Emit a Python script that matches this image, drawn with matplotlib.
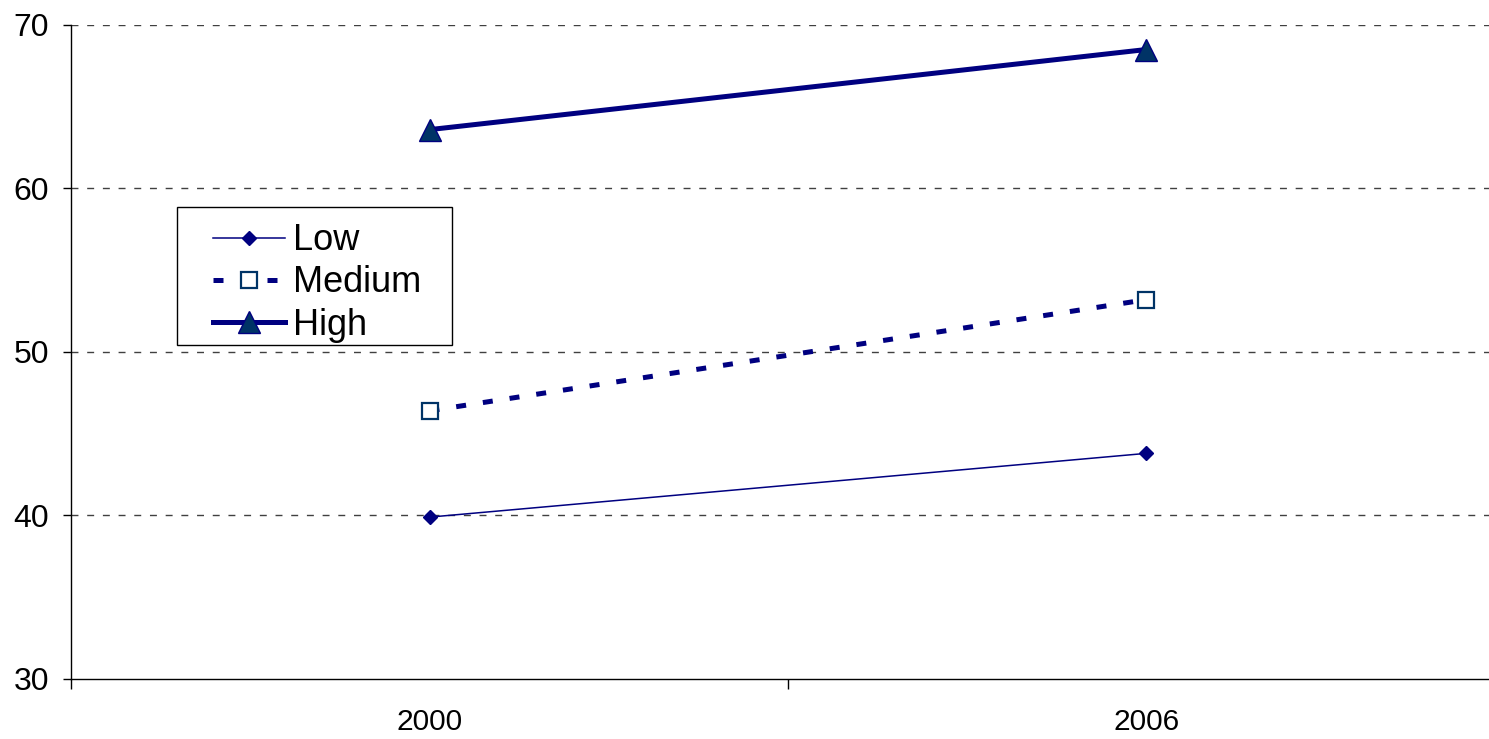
import numpy as np
import matplotlib.pyplot as plt
from matplotlib.patches import Rectangle

plt.rcParams['font.family'] = ['Liberation Sans', 'DejaVu Sans']

years = ["2000", "2006"]
low = [39.9, 43.8]
medium = [46.4, 53.2]
high = [63.6, 68.5]

navy = "#000080"
fill = "#003366"

fig = plt.figure(figsize=(14.89, 7.39), dpi=100)
ax = fig.add_axes([0.0477, 0.0812, 0.963, 0.885])

x = np.arange(len(years))
ax.plot(x, low, color=navy, lw=1.1, marker="D", ms=7,
        mfc=navy, mec=navy, label="Low")
ax.plot(x, medium, color=navy, lw=3.6, ls=(0, (2.0, 3.4)), marker="s", ms=12,
        mfc="white", mec=fill, mew=1.6, label="Medium")
ax.plot(x, high, color=navy, lw=3.6, marker="^", ms=16,
        mfc=fill, mec=navy, mew=1, label="High")

ax.set_xlim(-0.5, 1.5)
ax.set_ylim(30, 70)
ax.set_yticks([30, 40, 50, 60, 70])
ax.set_xticks(x)
ax.set_xticklabels(years)
ax.set_xticks([-0.5, 0.5, 1.5], minor=True)
ax.tick_params(axis="x", which="major", length=0, pad=21, labelsize=21.5)
ax.tick_params(axis="x", which="minor", length=7, width=1, color="black")
ax.tick_params(axis="y", length=6, width=1, labelsize=23, pad=10)

for y in [40, 50, 60, 70]:
    ax.axhline(y, color="#404040", lw=1, ls=(0, (5, 6.3)), zorder=0)

for side in ["top", "right"]:
    ax.spines[side].set_visible(False)
ax.spines["left"].set_linewidth(1)
ax.spines["bottom"].set_linewidth(1)

# legend box drawn separately so the padding can be uneven
ax.add_patch(Rectangle((0.0739, 0.5107), 0.1918, 0.211, transform=ax.transAxes,
                       facecolor="white", edgecolor="black", lw=1, zorder=4))
leg = ax.legend(loc="upper left", bbox_to_anchor=(0.099, 0.697),
                fontsize=26, frameon=False,
                handlelength=2.0, handletextpad=0.22, borderpad=0,
                labelspacing=0.2, borderaxespad=0)
leg.set_zorder(5)

fig.savefig("out.png", dpi=100)
